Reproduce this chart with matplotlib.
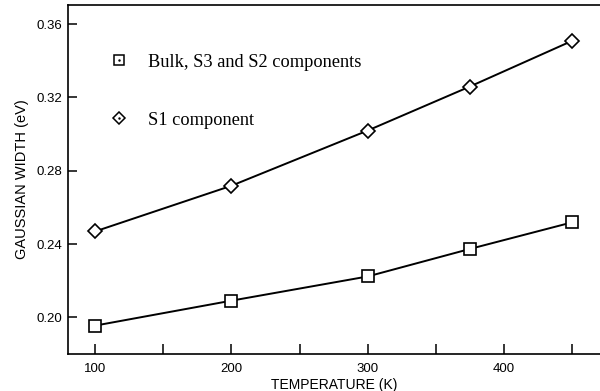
import matplotlib
matplotlib.use("Agg")
import matplotlib.pyplot as plt
from matplotlib.lines import Line2D
from matplotlib.legend_handler import HandlerTuple
from matplotlib.ticker import MultipleLocator

# temperatures (K) and gaussian widths (eV)
temp = [100, 200, 300, 375, 450]
width_bulk = [0.1955, 0.2091, 0.2223, 0.2373, 0.2518]
width_s1 = [0.2469, 0.2718, 0.3019, 0.3259, 0.3508]

xticks = [100, 200, 300, 400]
yticks = [0.20, 0.24, 0.28, 0.32, 0.36]
label_bulk = "Bulk, S3 and S2 components"
label_s1 = "S1 component"

fig = plt.figure(figsize=(6.0, 3.91), dpi=100)
ax = fig.add_axes([68 / 600, 1 - 354 / 391, 1 - 68 / 600, (354 - 5) / 391])

ax.plot(temp, width_bulk, color="black", lw=1.4, marker="s", ms=8.6,
        mfc="white", mec="black", mew=1.2)
ax.plot(temp, width_s1, color="black", lw=1.4, marker="D", ms=7,
        mfc="white", mec="black", mew=1.2)

ax.set_xlim(80, 470.6)
ax.set_ylim(0.18, 0.3704)
ax.set_xticks(xticks)
ax.xaxis.set_minor_locator(MultipleLocator(50))
ax.set_yticks(yticks)
ax.set_yticklabels(["%.2f" % v for v in yticks])

for s in ["left", "bottom", "top"]:
    ax.spines[s].set_linewidth(1.2)
ax.spines["right"].set_visible(False)

ax.tick_params(axis="x", which="both", direction="in", length=7.5, width=1.1,
               pad=6.5, labelsize=9.5)
ax.tick_params(axis="y", direction="in", length=6.5, width=1.1, pad=3.8,
               labelsize=9.5)
for lab in ax.get_xticklabels() + ax.get_yticklabels():
    lab.set_fontfamily("Liberation Sans")

ax.set_xlabel("TEMPERATURE (K)", fontfamily="Liberation Sans", fontsize=10,
              labelpad=2)
ax.set_ylabel("GAUSSIAN WIDTH (eV)", fontfamily="Liberation Sans",
              fontsize=10.5, labelpad=6)

# legend: open marker with a small dot in the middle
dot = Line2D([], [], ls="none", marker=".", ms=1.5, color="black")
h_bulk = Line2D([], [], ls="none", marker="s", ms=7, mfc="white",
                mec="black", mew=1.1)
h_s1 = Line2D([], [], ls="none", marker="D", ms=6.5, mfc="white",
              mec="black", mew=1.1)
leg = ax.legend([(h_bulk, dot), (h_s1, dot)], [label_bulk, label_s1],
                handler_map={tuple: HandlerTuple(ndivide=1, pad=0)},
                loc="upper left", bbox_to_anchor=(0.079, 0.861),
                frameon=False, handlelength=1.0, handletextpad=1.09,
                labelspacing=2.25, borderpad=0, borderaxespad=0,
                prop={"family": "Liberation Serif", "size": 13.2})

fig.savefig("out.png", dpi=100)
